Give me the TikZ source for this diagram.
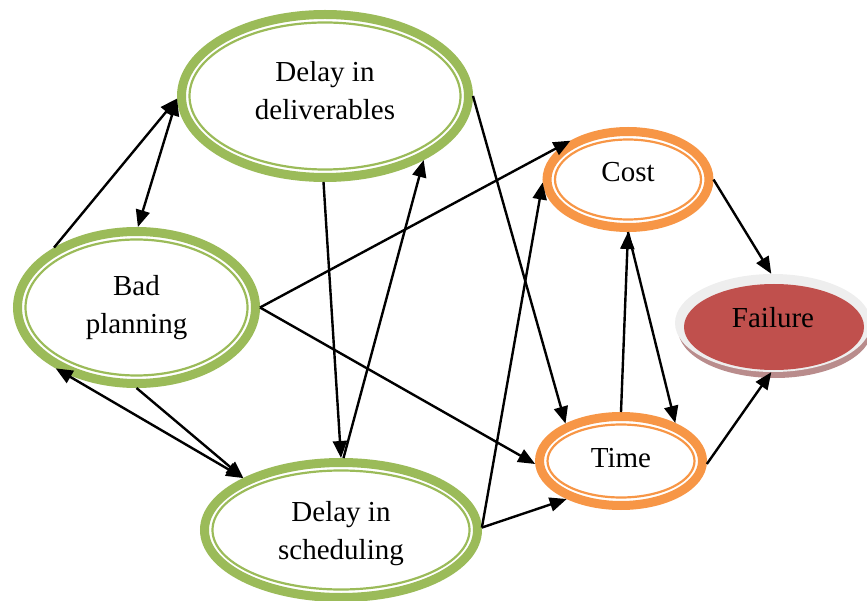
\documentclass[tikz,border=0pt]{standalone}
\usepackage{fontspec}
\setmainfont{Liberation Serif}
\usetikzlibrary{shapes.geometric,arrows.meta}
\definecolor{ringgreen}{HTML}{9BBB59}
\definecolor{ringorange}{HTML}{F79646}
\definecolor{failred}{HTML}{C0504D}
\definecolor{ringgrey}{HTML}{EEEEEE}
\definecolor{shadowc}{RGB}{185,140,140}
\tikzset{
  ringshape/.style={ellipse, line width=9pt, inner sep=0pt, outer sep=4.5pt},
  ringinner/.style={line width=2.2pt},
  labeltext/.style={font=\fontsize{29}{38}\selectfont, align=center, inner sep=0pt},
  conn/.style={line width=2.4pt, -{Triangle[length=17pt,width=14pt]}},
  connboth/.style={line width=2.4pt, {Triangle[length=17pt,width=14pt]}-{Triangle[length=17pt,width=14pt]}},
}
% name, x, y, outer rx, outer ry, colour, text, text shift (up)
\newcommand\RingNode[8]{%
  \node[ringshape, draw=#6, minimum width=#4*2pt-9pt, minimum height=#5*2pt-9pt] (#1) at (#2,#3) {};
  \draw[ringinner, draw=#6] (#1.center) ellipse [x radius=#4pt-12.5pt, y radius=#5pt-12.5pt];
  \node[labeltext] (#1t) at ([yshift=#8pt]#1.center) {#7};
}
\begin{document}
\begin{tikzpicture}[x=1pt,y=-1pt]
\useasboundingbox (0,0) rectangle (867,601);

\RingNode{D}{325}{96}{148}{86}{ringgreen}{Delay in\\deliverables}{5}
\RingNode{B}{136.5}{307.5}{123.5}{80.5}{ringgreen}{Bad\\planning}{0}
\RingNode{S}{341}{530}{141}{72}{ringgreen}{Delay in\\scheduling}{-4}
\RingNode{C}{628}{179.5}{85.5}{52.5}{ringorange}{Cost}{7}
\RingNode{T}{621}{461}{86}{49}{ringorange}{Time}{3}

% Failure
\fill[shadowc] (775,329) ellipse [x radius=97pt, y radius=49pt];
\node[ellipse, fill=ringgrey, minimum width=196pt, minimum height=98pt, inner sep=0pt] (F) at (773,323) {};
\fill[failred] ([shift={(1,4)}]F.center) ellipse [x radius=90pt, y radius=43pt];
\node[labeltext] (Ft) at ([shift={(0,-5)}]F.center) {Failure};

% connectors
\draw[conn] (B.144) -- (D.181);
\draw[connboth] (B.89) -- (D.181);
\draw[conn] (D.-91) -- (S.90);
\draw[conn] (S.88) -- (D.-33);
\draw[conn] (D.0) -- (T.146);
\draw[conn] (B.0) -- (C.146);
\draw[conn] (B.0) -- (T.182);
\draw[connboth] (B.217) -- (S.152);
\draw[conn] (B.-90) -- (S.152);
\draw[conn] (S.1) -- (C.182);
\draw[conn] (S.1) -- (T.215);
\draw[conn] (T.90) -- (C.-90);
\draw[conn] (C.-90) -- (T.35);
\draw[conn] (C.0) -- (F.92);
\draw[conn] (T.-2) -- (F.-92);
\end{tikzpicture}
\end{document}
